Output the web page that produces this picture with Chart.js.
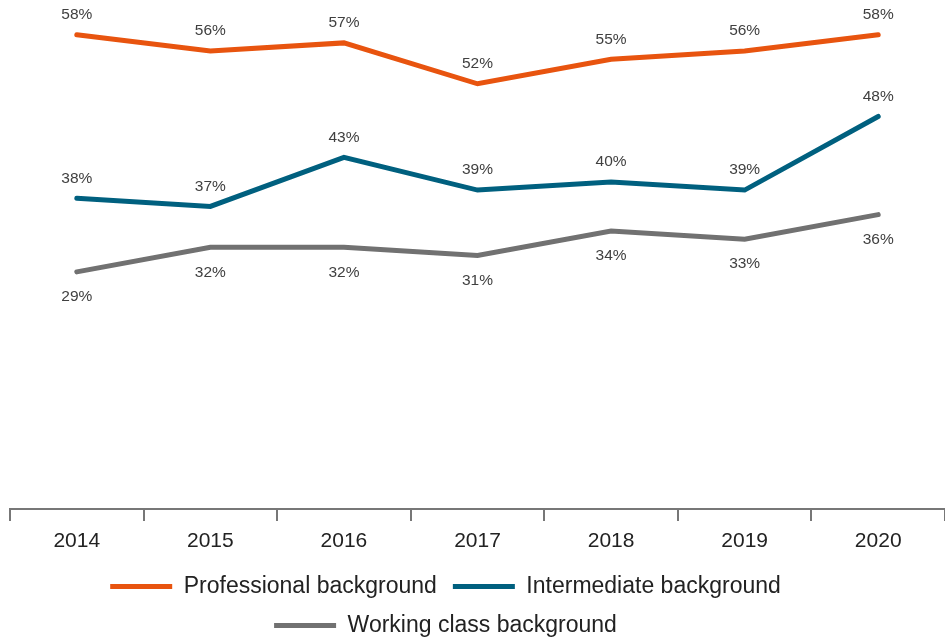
<!DOCTYPE html>
<html>
<head>
<meta charset="utf-8">
<script src="https://cdn.jsdelivr.net/npm/chart.js@4.4.0/dist/chart.umd.min.js"></script>
<style>
  html, body { margin: 0; padding: 0; background: #ffffff; }
  #wrap { width: 945px; height: 640px; position: relative; }
</style>
</head>
<body>
<div id="wrap"><canvas id="c"></canvas></div>
<script>
const categories = ['2014', '2015', '2016', '2017', '2018', '2019', '2020'];
const professional = [58, 56, 57, 52, 55, 56, 58];
const intermediate = [38, 37, 43, 39, 40, 39, 48];
const workingClass = [29, 32, 32, 31, 34, 33, 36];
const seriesNames = ['Professional background', 'Intermediate background', 'Working class background'];

const FONT = '"Liberation Sans", Arial, sans-serif';

const valueLabels = {
  id: 'valueLabels',
  afterDatasetsDraw(chart) {
    const ctx = chart.ctx;
    ctx.save();
    ctx.font = '15.5px ' + FONT;
    ctx.fillStyle = '#404040';
    ctx.textAlign = 'center';
    ctx.textBaseline = 'middle';
    chart.data.datasets.forEach((ds, i) => {
      const meta = chart.getDatasetMeta(i);
      meta.data.forEach((pt, j) => {
        ctx.fillText(ds.data[j] + '%', pt.x, pt.y + ds.labelOffset);
      });
    });
    ctx.restore();
  }
};

const legendShift = {
  id: 'legendShift',
  afterLayout(chart) {
    const lg = chart.legend;
    if (!lg) return;
    lg.left -= 32; lg.right -= 32;
    lg.top += 7; lg.bottom += 7;
  }
};

new Chart(document.getElementById('c'), {
  type: 'line',
  data: {
    labels: categories,
    datasets: [
      { label: seriesNames[0], data: professional, borderColor: '#E8540F', backgroundColor: '#E8540F', labelOffset: -20 },
      { label: seriesNames[1], data: intermediate, borderColor: '#00607F', backgroundColor: '#00607F', labelOffset: -20 },
      { label: seriesNames[2], data: workingClass, borderColor: '#717171', backgroundColor: '#717171', labelOffset: 25 }
    ].map(d => Object.assign(d, {
      borderWidth: 5, pointRadius: 0, pointHoverRadius: 0, tension: 0,
      borderCapStyle: 'round', borderJoinStyle: 'miter', fill: false
    }))
  },
  options: {
    responsive: true,
    maintainAspectRatio: false,
    animation: false,
    layout: { padding: { left: 10, right: 0, top: 2, bottom: 0 } },
    plugins: {
      tooltip: { enabled: false },
      legend: {
        position: 'bottom',
        labels: {
          usePointStyle: true,
          pointStyle: 'line',
          pointStyleWidth: 62,
          padding: 16,
          color: '#222222',
          font: { size: 23, family: FONT }
        }
      }
    },
    scales: {
      x: {
        offset: true,
        afterFit(scale) { scale.height = 43; },
        grid: { display: true, offset: true, drawOnChartArea: false, drawTicks: true, tickLength: 12, color: '#777777', lineWidth: 2 },
        border: { display: true, color: '#777777', width: 2 },
        ticks: { color: '#222222', padding: 8, font: { size: 21, family: FONT } }
      },
      y: {
        display: false,
        min: 0,
        max: 62
      }
    }
  },
  plugins: [valueLabels, legendShift]
});
</script>
</body>
</html>
